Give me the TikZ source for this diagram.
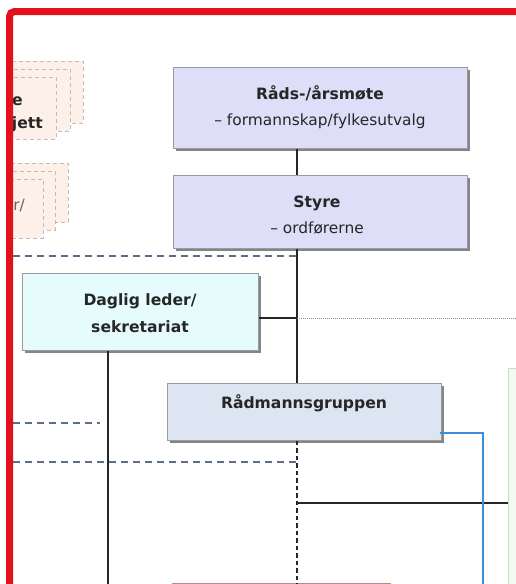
\documentclass[tikz,border=0pt]{standalone}
\usepackage{fontspec}
\setmainfont{DejaVu Sans}
\usetikzlibrary{shadows}
\definecolor{redframe}{HTML}{E2111C}
\definecolor{lav}{HTML}{DEDEF9}
\definecolor{cyanfill}{HTML}{E6FCFC}
\definecolor{steel}{HTML}{DCE5F1}
\definecolor{peach}{HTML}{FCF0E8}
\definecolor{peachline}{HTML}{BDBDBD}
\definecolor{slate}{HTML}{5B6E8A}
\definecolor{bluel}{HTML}{3A8FD6}
\definecolor{greenfill}{HTML}{F1FAEF}
\definecolor{greenline}{HTML}{CBD9C6}
\definecolor{pinkfill}{HTML}{F7E4E4}
\definecolor{pinkline}{HTML}{B58A8A}
\definecolor{boxline}{HTML}{9A9AA2}
\definecolor{textc}{HTML}{262626}
\begin{document}
\begin{tikzpicture}[x=1pt,y=-1pt,
  box/.style={draw=boxline, line width=1pt, inner sep=0pt,
    drop shadow={shadow xshift=2.5pt, shadow yshift=-2.5pt, fill=black!48, opacity=1}},
  ttl/.style={anchor=base, inner sep=0pt, text=textc, font=\fontsize{15.6}{18}\selectfont\bfseries},
  sub/.style={anchor=base, inner sep=0pt, text=textc, font=\fontsize{15.4}{18}\selectfont},
  frag/.style={anchor=base east, inner sep=0pt, text=textc, font=\fontsize{15.6}{18}\selectfont\bfseries},
  conn/.style={draw=black!85, line width=1.4pt},
  dashline/.style={draw=slate, line width=1.8pt, dash pattern=on 7pt off 5pt},
  dashblack/.style={draw=black!85, line width=1.8pt, dash pattern=on 4.5pt off 3pt},
  dotline/.style={draw=black!45, line width=0.9pt, dash pattern=on 0.8pt off 1.2pt},
  bluecon/.style={draw=bluel, line width=1.6pt},
  card/.style={draw=peachline, fill=peach, line width=1pt, dash pattern=on 4pt off 3pt},
]
\fill[white] (0,0) rectangle (516,584);
\useasboundingbox (0,0) rectangle (516,584);

% stacked cards, upper left (cut off by the frame)
\begin{scope}
\clip (10,0) rectangle (516,584);
\path[card] (-20,61) rectangle (83,123);
\path[card] (-20,69) rectangle (70,131);
\path[card] (-20,77) rectangle (56,139);
\path[card] (-20,163) rectangle (68,222);
\path[card] (-20,171) rectangle (55,230);
\path[card] (-20,179) rectangle (43,238);
\node[frag] (fragA) at (23,105.5) {e};
\node[frag] (fragB) at (43,128) {jett};
\node[frag, text=black!60, font=\fontsize{15.4}{18}\selectfont] (fragC) at (25,210.5) {r/};
\end{scope}

% right green box and bottom pink box
\node[draw=greenline, fill=greenfill, line width=1pt, minimum width=40, minimum height=240, anchor=north west] (green) at (508,368) {};
\node[draw=pinkline, fill=pinkfill, line width=1pt, minimum width=218, minimum height=30, anchor=north west] (pink) at (172,583) {};

% boxes
\node[box, fill=lav, minimum width=294, minimum height=81] (rads) at (320,107.5) {};
\node[box, fill=lav, minimum width=294, minimum height=73] (styre) at (320,211.5) {};
\node[box, fill=cyanfill, minimum width=236, minimum height=77] (daglig) at (140,311.5) {};
\node[box, fill=steel, minimum width=274, minimum height=57] (radm) at (304,411.5) {};

\node[ttl] (radsA) at (320,99) {Råds-/årsmøte};
\node[sub] (radsB) at (320,125.5) {– formannskap/fylkesutvalg};
\node[ttl] (styreA) at (317,207.5) {Styre};
\node[sub] (styreB) at (317,233.5) {– ordførerne};
\node[ttl] (dagA) at (140,305.5) {Daglig leder/};
\node[ttl] (dagB) at (140,332.5) {sekretariat};
\node[ttl] (radmA) at (304,408.5) {Rådmannsgruppen};

% connectors
\coordinate (spine) at (297,0);
\coordinate (j1) at (297,318);
\coordinate (dotend) at (516,318);
\coordinate (dagbot) at (108,584);
\coordinate (dl1a) at (13,256);
\coordinate (dl2a) at (13,423);
\coordinate (dl2b) at (100,423);
\coordinate (dl3a) at (13,462);
\coordinate (spinebot) at (297,584);
\coordinate (j2) at (297,503);
\coordinate (bl) at (483,433);
\coordinate (blbot) at (483,584);

\draw[dashline] (dl1a) -- (dl1a -| spine);
\draw[dashline] (dl2a) -- (dl2b);
\draw[dashline] (dl3a) -- (dl3a -| spine);
\draw[conn] (rads.south -| spine) -- (styre.north -| spine);
\draw[conn] (styre.south -| spine) -- (radm.north -| spine);
\draw[conn] (daglig.east |- j1) -- (j1);
\draw[dotline] (j1) -- (dotend);
\draw[conn] (daglig.south -| dagbot) -- (dagbot);
\draw[dashblack] (radm.south -| spine) -- (spinebot);
\draw[conn] (j2) -- (green.west |- j2);
\draw[bluecon] ([xshift=-2pt]radm.east |- bl) -- (bl) -- (blbot);

% red frame
\draw[redframe, line width=7pt, rounded corners=5pt] (9.5,600) -- (9.5,11.5) -- (530,11.5);
\end{tikzpicture}
\end{document}
